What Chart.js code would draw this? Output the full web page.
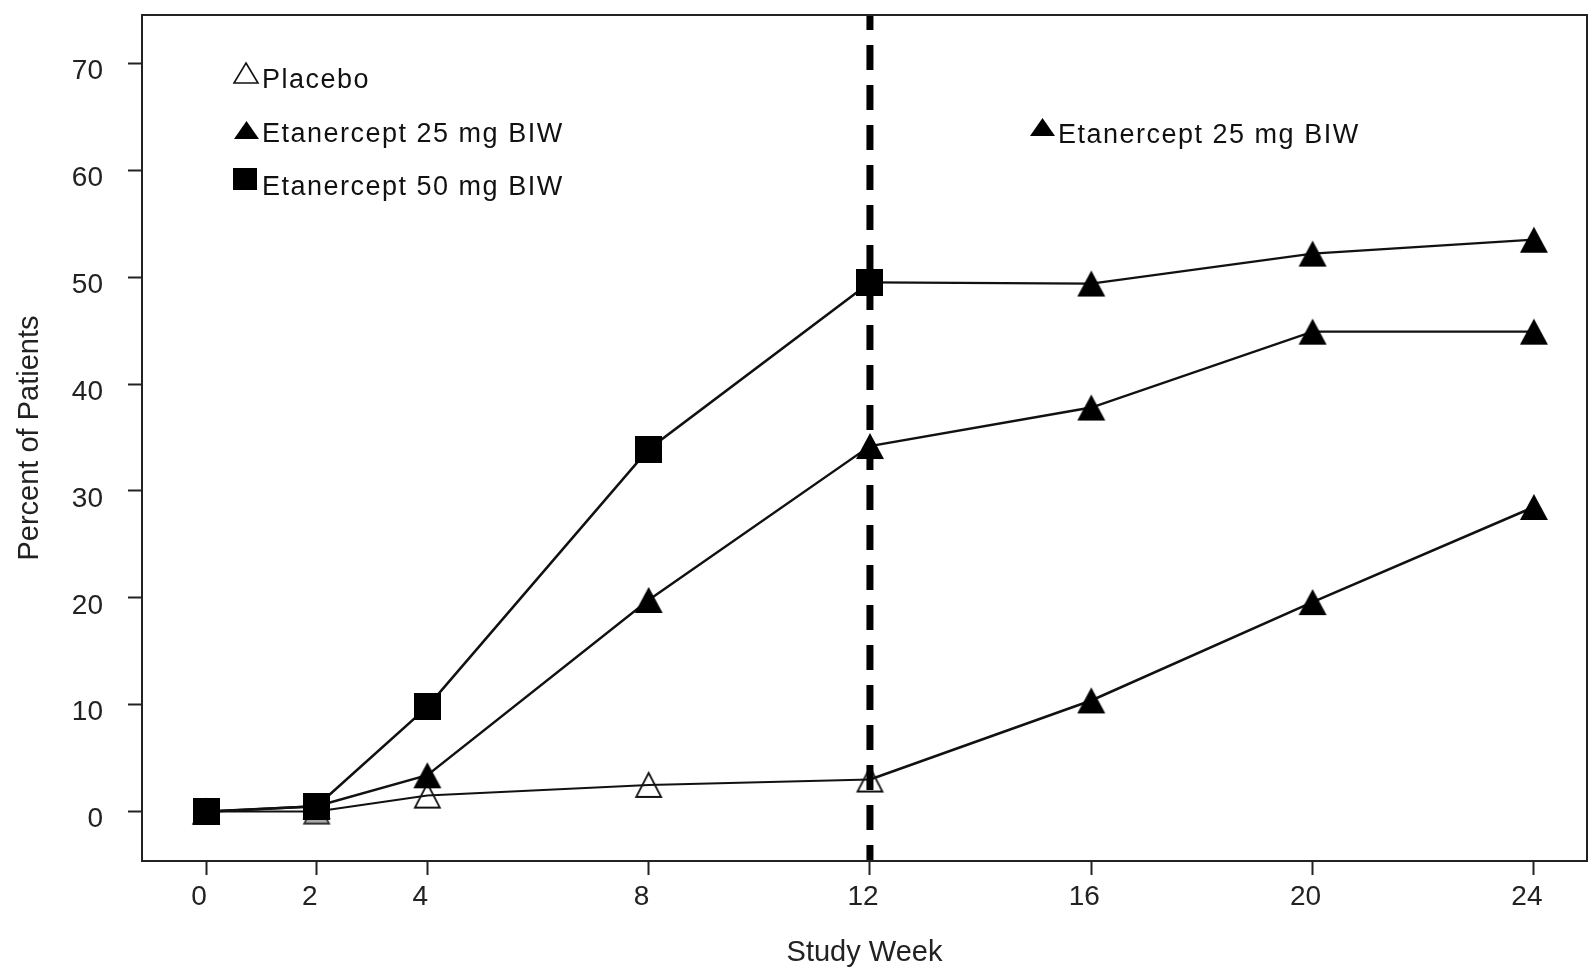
<!DOCTYPE html>
<html>
<head>
<meta charset="utf-8">
<script src="https://cdn.jsdelivr.net/npm/chart.js@4.4.1/dist/chart.umd.min.js"></script>
<style>
html,body{margin:0;padding:0;background:#fff;overflow:hidden}
#wrap{width:1588px;height:970px;position:relative}
</style>
</head>
<body>
<div id="wrap"><canvas id="c"></canvas></div>
<script>
// ---- data ----
const weeksBlind = [0, 2, 4, 8, 12];
const weeksOpen = [12, 16, 20, 24];
const weeksAll = [0, 2, 4, 8, 12, 16, 20, 24];
const xTickWeeks = [0, 2, 4, 8, 12, 16, 20, 24];
const yTickValues = [0, 10, 20, 30, 40, 50, 60, 70];
const placeboBlind = [0, 0, 1.5, 2.5, 3.0];
const placeboOpen = [3.0, 10.4, 19.6, 28.5];
const etn25All = [0, 0.5, 3.4, 19.8, 34.2, 37.8, 44.9, 44.9];
const etn50Blind = [0, 0.5, 9.8, 33.9, 49.5];
const etn50Open = [49.5, 49.4, 52.2, 53.5];
const switchWeek = 12;
const legendLabels = ['Placebo', 'Etanercept 25 mg BIW', 'Etanercept 50 mg BIW'];
const openLabel = 'Etanercept 25 mg BIW';
const xTitle = 'Study Week';
const yTitle = 'Percent of Patients';

// ---- marker images ----
function triCanvas(w, h, fill, stroke, lw) {
  const pad = Math.ceil(lw || 0) + 1;
  const c = document.createElement('canvas');
  c.width = w + 2 * pad; c.height = h + 2 * pad;
  const g = c.getContext('2d');
  g.beginPath();
  g.moveTo(pad + w / 2, pad);
  g.lineTo(pad + w, pad + h);
  g.lineTo(pad, pad + h);
  g.closePath();
  if (fill) { g.fillStyle = fill; g.fill(); }
  if (stroke) { g.lineWidth = lw; g.strokeStyle = stroke; g.lineJoin = 'miter'; g.stroke(); }
  return c;
}
function sqCanvas(w, h, fill) {
  const c = document.createElement('canvas');
  c.width = w; c.height = h;
  const g = c.getContext('2d');
  g.fillStyle = fill; g.fillRect(0, 0, w, h);
  return c;
}
const triF = triCanvas(28, 26, '#000', null, 0);
const triO = triCanvas(25, 24, null, '#111', 1.8);
const triG = triCanvas(25, 24, '#a8a8a8', '#333', 1.8);
const sqF = sqCanvas(27, 27, '#000');
const legTriO = triCanvas(24, 20, null, '#111', 1.6);
const legTriF = triCanvas(25, 18, '#000', null, 0);
const legSq = sqCanvas(24, 22, '#000');

const pts = (xs, ys) => xs.map((x, i) => ({ x: x, y: ys[i] }));
const lineColor = '#111';
const FONT = '"Liberation Sans", Arial, Helvetica, sans-serif';
Chart.defaults.font.family = FONT;

// ---- plugins ----
const framePlugin = {
  id: 'frame',
  afterDraw(chart) {
    const a = chart.chartArea, ctx = chart.ctx;
    ctx.save();
    ctx.strokeStyle = '#222';
    ctx.lineWidth = 2;
    ctx.strokeRect(a.left, a.top, a.right - a.left, a.bottom - a.top);
    ctx.restore();
  }
};
const switchLinePlugin = {
  id: 'switchLine',
  afterDatasetsDraw(chart) {
    const a = chart.chartArea, ctx = chart.ctx;
    const x = chart.scales.x.getPixelForValue(switchWeek);
    ctx.save();
    ctx.strokeStyle = '#000';
    ctx.lineWidth = 7;
    ctx.setLineDash([25, 15]);
    ctx.lineDashOffset = 10;
    ctx.beginPath();
    ctx.moveTo(x, a.top);
    ctx.lineTo(x, a.bottom);
    ctx.stroke();
    ctx.restore();
  }
};
const legendPlugin = {
  id: 'customLegend',
  afterDraw(chart) {
    const ctx = chart.ctx;
    ctx.save();
    const put = (img, cx, cy) => ctx.drawImage(img, Math.round(cx - img.width / 2), Math.round(cy - img.height / 2));
    put(legTriO, 246, 73);
    put(legTriF, 246, 130);
    put(legSq, 245, 179);
    put(legTriF, 1042, 127);
    ctx.fillStyle = '#111';
    ctx.font = '27px ' + FONT;
    try { ctx.letterSpacing = '1.5px'; } catch (e) {}
    ctx.textAlign = 'left';
    ctx.textBaseline = 'alphabetic';
    ctx.fillText(legendLabels[0], 262, 88);
    ctx.fillText(legendLabels[1], 262, 142);
    ctx.fillText(legendLabels[2], 262, 195);
    ctx.fillText(openLabel, 1058, 143);
    ctx.restore();
  }
};

const R = 13;
new Chart(document.getElementById('c'), {
  type: 'line',
  data: {
    datasets: [
      { label: 'Etanercept 50 mg BIW', data: pts(weeksBlind, etn50Blind), borderColor: lineColor, borderWidth: 2.6,
        pointStyle: sqF, pointRadius: R, pointHoverRadius: R },
      { label: 'Etanercept 50 mg BIW to 25 mg BIW', data: pts(weeksOpen, etn50Open), borderColor: lineColor, borderWidth: 2.2,
        pointStyle: triF, pointRadius: [0, R, R, R], pointHoverRadius: [0, R, R, R] },
      { label: 'Etanercept 25 mg BIW', data: pts(weeksAll, etn25All), borderColor: lineColor, borderWidth: 2.4,
        pointStyle: triF, pointRadius: R, pointHoverRadius: R },
      { label: 'Placebo to Etanercept 25 mg BIW', data: pts(weeksOpen, placeboOpen), borderColor: lineColor, borderWidth: 2.6,
        pointStyle: triF, pointRadius: [0, R, R, R], pointHoverRadius: [0, R, R, R] },
      { label: 'Placebo', data: pts(weeksBlind, placeboBlind), borderColor: lineColor, borderWidth: 2,
        pointStyle: [triG, triG, triO, triO, triO], pointRadius: R, pointHoverRadius: R }
    ]
  },
  options: {
    responsive: true,
    maintainAspectRatio: false,
    devicePixelRatio: 1,
    animation: false,
    events: [],
    layout: { autoPadding: false, padding: { top: 15, right: 1, left: 0, bottom: 0 } },
    plugins: { legend: { display: false }, tooltip: { enabled: false }, title: { display: false } },
    elements: { line: { tension: 0, fill: false } },
    scales: {
      x: {
        type: 'linear', min: -1.157, max: 24.96,
        afterBuildTicks: s => { s.ticks = xTickWeeks.map(v => ({ value: v })); },
        afterFit: s => { s.height = 109; s.paddingLeft = 0; s.paddingRight = 0; s.paddingTop = 0; s.paddingBottom = 0; },
        grid: { drawOnChartArea: false, drawTicks: true, tickLength: 14, tickWidth: 2, tickColor: '#222' },
        border: { display: true, color: '#222', width: 2 },
        ticks: { font: { size: 28 }, color: '#222', padding: 5, labelOffset: -7, maxRotation: 0, autoSkip: false },
        title: { display: true, text: xTitle, font: { size: 29 }, color: '#222', padding: { top: 0, bottom: 0 } }
      },
      y: {
        type: 'linear', min: -4.62, max: 74.52,
        afterBuildTicks: s => { s.ticks = yTickValues.map(v => ({ value: v })); },
        afterFit: s => { s.width = 142; s.paddingTop = 0; s.paddingBottom = 0; s.paddingLeft = 0; s.paddingRight = 0; },
        grid: { drawOnChartArea: false, drawTicks: true, tickLength: 14, tickWidth: 2, tickColor: '#222' },
        border: { display: true, color: '#222', width: 2 },
        ticks: { font: { size: 28 }, color: '#222', padding: 25, labelOffset: 8, autoSkip: false },
        title: { display: true, text: yTitle, font: { size: 29 }, color: '#222', padding: { top: 13, bottom: 0 } }
      }
    }
  },
  plugins: [switchLinePlugin, framePlugin, legendPlugin]
});
</script>
</body>
</html>
